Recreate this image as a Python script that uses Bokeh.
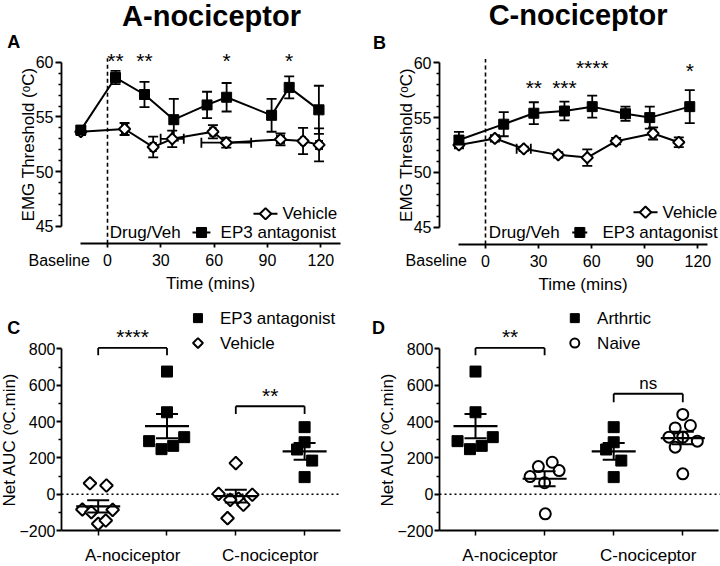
import math
import numpy as np
from bokeh.plotting import figure
from bokeh.models import FixedTicker, Range1d
from bokeh.layouts import column, row
from bokeh.embed import file_html
from bokeh.resources import INLINE
from bokeh.core.properties import value

FONT = "Liberation Sans"
BLACK = "black"

# ---------------- Panel A: A-nociceptor time course ----------------
a_ep3_time = [-15, 4.5, 20.8, 37.3, 56.0, 67.0, 92.3, 102.2, 118.9]
a_ep3_mean = [53.8, 58.6, 57.05, 54.75, 56.1, 56.8, 55.15, 57.7, 55.65]
a_ep3_yerr = [0.35, 0.6, 1.15, 1.9, 1.2, 1.3, 1.5, 1.0, 2.2]
a_ep3_xerr = [0, 0, 0, 1.5, 2.0, 0, 0, 1.7, 2.5]
a_veh_time = [-15, 9.6, 25.7, 36.4, 59.3, 66.8, 97.3, 110.0, 119.0]
a_veh_mean = [53.65, 53.9, 52.25, 53.0, 53.65, 52.65, 52.95, 52.8, 52.45]
a_veh_yerr = [0.3, 0.55, 0.95, 0.75, 0.6, 0.45, 0.55, 1.2, 1.5]
a_veh_xerr = [0, 1.5, 1.5, 6.5, 1.5, 14.0, 2.0, 1.0, 1.7]
a_sig_index = [1, 2, 5, 7]
a_sig_text = ["**", "**", "*", "*"]

# ---------------- Panel B: C-nociceptor time course ----------------
b_ep3_time = [-15, 10.3, 27.3, 44.6, 60.3, 79.1, 92.8, 115.4]
b_ep3_mean = [52.95, 54.4, 55.4, 55.6, 56.0, 55.35, 55.0, 56.0]
b_ep3_yerr = [0.75, 1.1, 1.0, 0.85, 1.0, 0.65, 1.0, 1.5]
b_ep3_xerr = [0, 0, 0, 0, 0, 0, 0, 0]
b_veh_time = [-15, 5.3, 21.6, 41.1, 57.5, 73.8, 94.7, 109.2]
b_veh_mean = [52.5, 53.1, 52.15, 51.6, 51.35, 52.85, 53.55, 52.75]
b_veh_yerr = [0.2, 0.3, 0.2, 0.25, 0.75, 0.3, 0.55, 0.45]
b_veh_xerr = [0, 0, 4.0, 0, 0, 0, 1.5, 0]
b_sig_index = [2, 3, 4, 7]
b_sig_text = ["**", "***", "****", "*"]

time_ticks = [0, 30, 60, 90, 120]
temp_ticks = [45, 50, 55, 60]
temp_minor = [46, 47, 48, 49, 51, 52, 53, 54, 56, 57, 58, 59]

# ---------------- Panels C / D: net AUC ----------------
categories = ["A-nociceptor", "C-nociceptor"]
auc_ticks = [-200, 0, 200, 400, 600, 800]
auc_minor = [-100, 100, 300, 500, 700]

c_veh_A = [60, 48, -84, -99, -86, -163, -145]
c_veh_A_jit = [-0.12, 0.12, -0.23, -0.10, 0.21, 0.0, 0.11]
c_ep3_A = [675, 451, 292, 314, 248, 266]
c_ep3_A_jit = [0.0, 0.0, -0.26, 0.25, -0.08, 0.09]
c_veh_C = [171, 2, -3, -25, -31, -58, -132]
c_veh_C_jit = [0.0, -0.25, 0.24, 0.04, -0.08, 0.11, -0.12]
c_ep3_C = [369, 286, 246, 185, 94]
c_ep3_C_jit = [0.0, 0.0, -0.11, 0.11, 0.0]

d_naive_A = [97, 152, 176, 130, 63, -108]
d_naive_A_jit = [-0.21, -0.09, 0.11, 0.21, 0.0, 0.01]
d_naive_C = [439, 365, 378, 314, 314, 292, 259, 112]
d_naive_C_jit = [0.0, -0.11, 0.11, -0.2, 0.0, 0.21, -0.11, 0.0]


def base_fig(w, h, xr, yr):
    p = figure(width=w, height=h, x_range=Range1d(*xr), y_range=Range1d(*yr),
               output_backend="svg", toolbar_location=None)
    p.min_border_left = 0
    p.min_border_right = 0
    p.min_border_top = 0
    p.min_border_bottom = 0
    p.xgrid.visible = False
    p.ygrid.visible = False
    p.outline_line_color = None
    p.background_fill_color = "white"
    p.border_fill_color = "white"
    return p


def style_axis(ax, tick_size="16px"):
    ax.axis_line_width = 1.8
    ax.axis_line_color = BLACK
    ax.major_tick_line_width = 1.8
    ax.minor_tick_line_width = 1.5
    ax.major_tick_line_color = BLACK
    ax.minor_tick_line_color = BLACK
    ax.major_tick_in = 0
    ax.minor_tick_in = 0
    ax.major_label_text_font = FONT
    ax.major_label_text_font_size = tick_size
    ax.major_label_text_color = BLACK
    ax.axis_label_text_font = FONT
    ax.axis_label_text_font_size = "17px"
    ax.axis_label_text_font_style = "normal"
    ax.axis_label_text_color = BLACK


def txt(p, x, y, s, size="17px", align="left", baseline="middle", style="normal", angle=0.0):
    p.text(x=[x], y=[y], text=[s], text_font=value(FONT), text_font_size=size,
           text_align=align, text_baseline=baseline, text_font_style=style,
           text_color=BLACK, angle=angle)


def draw_errs(p, t, v, ye, xe):
    t = np.array(t, float); v = np.array(v, float)
    ye = np.array(ye, float); xe = np.array(xe, float)
    p.line(t, v, line_width=2, line_color=BLACK)
    p.segment(t, v - ye, t, v + ye, line_width=1.8, line_color=BLACK)
    p.scatter(np.concatenate([t, t]), np.concatenate([v - ye, v + ye]), marker="dash",
              size=10, line_width=1.8, line_color=BLACK)
    m = xe > 0
    if m.any():
        p.segment(t[m] - xe[m], v[m], t[m] + xe[m], v[m], line_width=1.8, line_color=BLACK)
        p.scatter(np.concatenate([t[m] - xe[m], t[m] + xe[m]]), np.concatenate([v[m], v[m]]),
                  marker="dash", angle=math.pi / 2, size=10, line_width=1.8, line_color=BLACK)


def sq(p, x, y, size=10):
    p.scatter(x, y, marker="square", size=size, fill_color=BLACK, line_color=BLACK)


def dia(p, x, y, size=8):
    p.scatter(x, y, marker="square", angle=math.pi / 4, size=size, fill_color="white",
              line_color=BLACK, line_width=2)


def timecourse(xr, yr, yloc, xloc, ep3, veh, sig_idx, sig_txt, sig_y, bounds, leg):
    p = base_fig(360, 296, xr, yr)
    ya = p.yaxis[0]
    style_axis(ya)
    ya.fixed_location = yloc
    ya.ticker = FixedTicker(ticks=temp_ticks, minor_ticks=temp_minor)
    ya.bounds = (45, 60)
    ya.major_tick_out = 6
    ya.minor_tick_out = 3
    ya.major_label_standoff = 2
    ya.axis_label = "EMG Threshold (\u1d52C)"
    ya.axis_label_standoff = -5
    xa = p.xaxis[0]
    style_axis(xa)
    xa.fixed_location = xloc
    xa.ticker = FixedTicker(ticks=time_ticks, minor_ticks=[])
    xa.bounds = bounds
    xa.major_tick_out = 4
    xa.minor_tick_out = 0
    xa.major_label_standoff = 6
    xa.axis_label = "Time (mins)"
    xa.axis_label_standoff = 5

    p.segment([0], [xloc], [0], [60.35], line_width=1.6, line_color=BLACK, line_dash="4 3")
    draw_errs(p, *veh)
    draw_errs(p, *ep3)
    dia(p, veh[0], veh[1])
    sq(p, ep3[0], ep3[1])

    for i, s, yy in zip(sig_idx, sig_txt, sig_y):
        txt(p, ep3[0][i], yy, s, "21px", "center", "alphabetic")

    dv, e0, e1, em, et, v0, v1, vm, vt, ey, vy = leg
    txt(p, dv, ey, "Drug/Veh")
    p.segment([e0], [ey], [e1], [ey], line_width=2, line_color=BLACK)
    sq(p, [em], [ey])
    txt(p, et, ey, "EP3 antagonist")
    p.segment([v0], [vy], [v1], [vy], line_width=2, line_color=BLACK)
    dia(p, [vm], [vy])
    txt(p, vt, vy, "Vehicle")
    return p


pA = timecourse((-60.19, 142.31), (38.603, 65.635), -25.87, 43.416,
                (a_ep3_time, a_ep3_mean, a_ep3_yerr, a_ep3_xerr),
                (a_veh_time, a_veh_mean, a_veh_yerr, a_veh_xerr),
                a_sig_index, a_sig_text, [60.11] * 4, (-15.2, 131),
                (1.3, 47.8, 57.9, 52.9, 63.6, 82.1, 95.6, 88.9, 98.4, 44.45, 46.16))
txt(pA, 58.5, 64.265, "A-nociceptor", "29px", "center", "middle", "bold")
txt(pA, -52.7, 61.83, "A", "18px", "center", "middle", "bold")
txt(pA, -27.2, 41.89, "Baseline", "16px", "center", "middle")

pB = timecourse((-70.62, 132.77), (38.677, 65.684), -25.99, 43.42,
                (b_ep3_time, b_ep3_mean, b_ep3_yerr, b_ep3_xerr),
                (b_veh_time, b_veh_mean, b_veh_yerr, b_veh_xerr),
                b_sig_index, b_sig_text, [57.74, 57.74, 59.57, 59.27], (-15.4, 125.3),
                (1.9, 49.0, 57.5, 53.3, 66.1, 83.6, 97.2, 90.4, 100.0, 44.52, 46.37))
txt(pB, 52.3, 64.32, "C-nociceptor", "29px", "center", "middle", "bold")
txt(pB, -59.9, 61.81, "B", "18px", "center", "middle", "bold")
txt(pB, -27.8, 41.96, "Baseline", "16px", "center", "middle")


def dot_group(p, cat, jit, vals, kind):
    x = cat + np.array(jit, float)
    y = np.array(vals, float)
    if kind == "square":
        sq(p, x, y, 11)
    elif kind == "diamond":
        dia(p, x, y, 9)
    else:
        p.scatter(x, y, marker="circle", size=11, fill_color="white", line_color=BLACK, line_width=2)
    m = y.mean()
    s = y.std(ddof=1) / math.sqrt(len(y))
    p.scatter([cat], [m], marker="dash", size=44, line_width=2.2, line_color=BLACK)
    p.segment([cat], [m - s], [cat], [m + s], line_width=2, line_color=BLACK)
    p.scatter([cat, cat], [m - s, m + s], marker="dash", size=22, line_width=2, line_color=BLACK)


def bracket(p, c1, c2, top, leg, label, size, ybase):
    p.segment([c1, c1, c2], [leg, top, top], [c1, c2, c2], [top, top, leg],
              line_width=1.8, line_color=BLACK)
    txt(p, (c1 + c2) / 2, ybase, label, size, "center", "alphabetic")


def auc_fig(xr, yloc, xbounds, zero_end):
    p = base_fig(360, 270, xr, (-397.9, 1088.1))
    ya = p.yaxis[0]
    style_axis(ya)
    ya.fixed_location = yloc
    ya.ticker = FixedTicker(ticks=auc_ticks, minor_ticks=auc_minor)
    ya.bounds = (-200, 800)
    ya.major_tick_out = 5
    ya.minor_tick_out = 3
    ya.major_label_standoff = 1
    ya.axis_label = "Net AUC (\u1d52C.min)"
    ya.axis_label_standoff = -3
    xa = p.xaxis[0]
    style_axis(xa, "17px")
    xa.fixed_location = -200
    xa.ticker = FixedTicker(ticks=[1.5, 3.5], minor_ticks=[1, 2, 3, 4])
    xa.major_label_overrides = {1.5: categories[0], 3.5: categories[1]}
    xa.bounds = xbounds
    xa.major_tick_out = 0
    xa.minor_tick_out = 5
    xa.major_label_standoff = 10
    p.segment([yloc], [0], [zero_end], [0], line_color=BLACK, line_width=1.6, line_dash="2 3")
    return p


pC = auc_fig((-0.42, 4.8125), 0.4666, (0.4666, 4.5196), 4.5196)
dot_group(pC, 1, c_veh_A_jit, c_veh_A, "diamond")
dot_group(pC, 2, c_ep3_A_jit, c_ep3_A, "square")
dot_group(pC, 3, c_veh_C_jit, c_veh_C, "diamond")
dot_group(pC, 4, c_ep3_C_jit, c_ep3_C, "square")
bracket(pC, 1, 2, 805, 765, "****", "21px", 867)
bracket(pC, 3, 4, 484, 442, "**", "21px", 543)
sq(pC, [2.45], [969], 9)
txt(pC, 2.77, 969, "EP3 antagonist")
dia(pC, [2.45], [832], 7)
txt(pC, 2.77, 832, "Vehicle")
txt(pC, -0.227, 912, "C", "18px", "center", "middle", "bold")

pD = auc_fig((-0.6643, 4.5456), 0.479, (0.479, 4.517), 4.5456)
dot_group(pD, 1, c_ep3_A_jit, c_ep3_A, "square")
dot_group(pD, 2, d_naive_A_jit, d_naive_A, "circle")
dot_group(pD, 3, c_ep3_C_jit, c_ep3_C, "square")
dot_group(pD, 4, d_naive_C_jit, d_naive_C, "circle")
bracket(pD, 1, 2, 805, 765, "**", "21px", 867)
bracket(pD, 3, 4, 553, 506, "ns", "17px", 611)
sq(pD, [2.437], [969], 9)
txt(pD, 2.76, 969, "Arthrtic")
pD.scatter([2.437], [832], marker="circle", size=9, fill_color="white", line_color=BLACK, line_width=2)
txt(pD, 2.76, 832, "Naive")
txt(pD, -0.404, 912, "D", "18px", "center", "middle", "bold")

layout = column(row(pA, pB), row(pC, pD))
open("out.html", "w").write(file_html(layout, INLINE))
